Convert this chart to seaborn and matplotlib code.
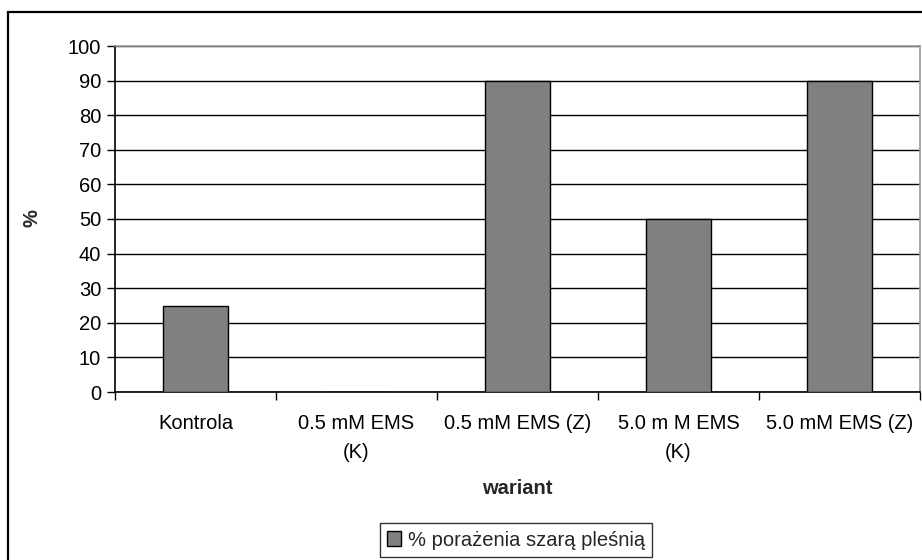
import matplotlib
matplotlib.use("Agg")
import matplotlib.pyplot as plt
import matplotlib.patches as mpatches
import seaborn as sns
import pandas as pd

categories = ["Kontrola", "0.5 mM EMS\n(K)", "0.5 mM EMS (Z)", "5.0 m M EMS\n(K)", "5.0 mM EMS (Z)"]
values = [25, 0, 90, 50, 90]
series_name = "% porażenia szarą pleśnią"
y_ticks = [0, 10, 20, 30, 40, 50, 60, 70, 80, 90, 100]

df = pd.DataFrame({"wariant": categories, "value": values})

sns.set_theme(style="white")
plt.rcParams["font.family"] = ["Liberation Sans", "DejaVu Sans"]

W, H = 922, 560
fig = plt.figure(figsize=(W / 100, H / 100), dpi=100)
fig.patch.set_facecolor("white")

# Outer chart frame (open on the right and bottom edges)
fig.patches.append(mpatches.Rectangle((8 / W, -0.05), 1.2, (H - 12) / H + 0.05,
                                      transform=fig.transFigure, fill=False,
                                      edgecolor="black", linewidth=1.6, zorder=0))

ax = fig.add_axes([115 / W, (H - 392) / H, 805 / W, 346 / H])
sns.barplot(data=df, x="wariant", y="value", ax=ax, color="#808080",
            width=0.4, edgecolor="black", linewidth=1.0, saturation=1,
            zorder=3)

ax.set_xlim(-0.5, len(categories) - 0.5)
ax.set_ylim(0, 100)
ax.set_yticks(y_ticks)
ax.yaxis.grid(True, color="black", linewidth=1.0, zorder=1)
ax.set_axisbelow(True)

for side in ["top", "right"]:
    ax.spines[side].set_color("#999999")
    ax.spines[side].set_linewidth(1.2)
for side in ["left", "bottom"]:
    ax.spines[side].set_color("black")
    ax.spines[side].set_linewidth(1.2)

ax.tick_params(axis="y", which="major", direction="out", length=6, width=1,
               color="black", labelsize=14.5, pad=4, left=True)
ax.tick_params(axis="x", which="major", length=0, labelsize=14.5, pad=16)
ax.set_xticks(range(len(categories)))
ax.set_xticklabels(categories, linespacing=1.65)
ax.set_xticks([i - 0.5 for i in range(len(categories) + 1)], minor=True)
ax.tick_params(axis="x", which="minor", direction="out", length=6, width=1,
               color="black", bottom=True)

ax.set_xlabel("wariant", fontsize=14.5, fontweight="bold", labelpad=12)
ax.set_ylabel("%", fontsize=14.5, fontweight="bold")
ax.yaxis.set_label_coords((42 - 115) / 805, (392 - 218) / 346)

for lbl in ax.get_xticklabels() + ax.get_yticklabels():
    lbl.set_color("black")

handle = mpatches.Patch(facecolor="#808080", edgecolor="black", linewidth=1.0)
leg = fig.legend([handle], [series_name], loc="center",
                 bbox_to_anchor=(516 / W, (H - 540) / H),
                 frameon=True, fancybox=False, fontsize=14.5,
                 handlelength=0.7, handleheight=0.7, handletextpad=0.3,
                 borderpad=0.35, borderaxespad=0)
leg.get_frame().set_edgecolor("black")
leg.get_frame().set_linewidth(1.0)

fig.savefig("out.png", dpi=100, facecolor="white")
